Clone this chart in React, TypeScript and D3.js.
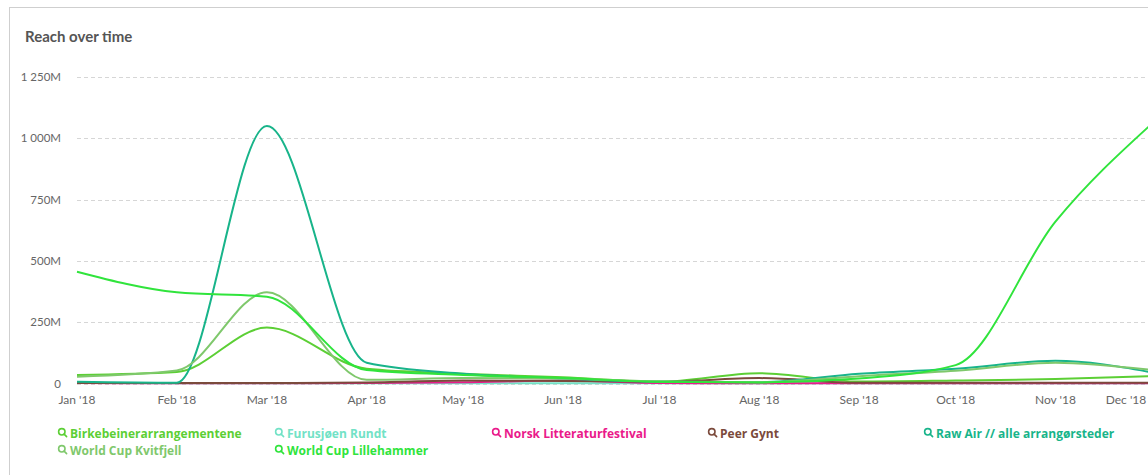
import React from "react";
import * as d3 from "d3";

const months = ["2018-01-01","2018-02-01","2018-03-01","2018-04-01","2018-05-01","2018-06-01","2018-07-01","2018-08-01","2018-09-01","2018-10-01","2018-11-01","2018-12-01"];
const monthLabels = ["Jan '18","Feb '18","Mar '18","Apr '18","May '18","Jun '18","Jul '18","Aug '18","Sep '18","Oct '18","Nov '18","Dec '18"];
const yTicks = [0, 250, 500, 750, 1000, 1250];
const yTickLabels = ["0", "250M", "500M", "750M", "1 000M", "1 250M"];

const birkebeiner = [35, 47, 228, 60, 40, 25, 7, 42, 8, 12, 18, 30];
const furusjoen = [3, 1, 1, 1, 1, 1, 1, 1, 1, 1, 1, 1];
const norskLitt = [2, 1, 1, 2, 5, 12, 2, 1, 1, 1, 1, 1];
const peerGynt = [2, 2, 2, 4, 12, 10, 7, 22, 3, 3, 3, 3];
const rawAir = [7, 3, 1050, 85, 40, 20, 7, 5, 40, 60, 93, 45];
const kvitfjell = [28, 53, 372, 15, 22, 20, 8, 5, 30, 52, 85, 55];
const lillehammer = [456, 372, 354, 55, 35, 22, 7, 4, 20, 75, 660, 1060];

const seriesNames = ["Birkebeinerarrangementene","Furusjøen Rundt","Norsk Litteraturfestival","Peer Gynt","Raw Air // alle arrangørsteder","World Cup Kvitfjell","World Cup Lillehammer"];
const seriesColors = ["#5ccf35","#72e2c6","#ea1a8a","#7b4a3c","#18b48a","#7fc86c","#30e43c"];
const seriesValues = [birkebeiner, furusjoen, norskLitt, peerGynt, rawAir, kvitfjell, lillehammer];

const FONT = "Lato, 'Open Sans', sans-serif";
const LEGEND_FONT = "'Open Sans', Lato, sans-serif";

function SearchIcon({ x, y, color }: { x: number; y: number; color: string }) {
  return (
    <g transform={`translate(${x},${y})`} stroke={color} fill="none" strokeWidth={1.6}>
      <circle cx={3.8} cy={-1.2} r={3.2} />
      <line x1={6.1} y1={1.1} x2={8.6} y2={3.6} strokeLinecap="round" />
    </g>
  );
}

export default function App() {
  const W = 1148, H = 475;
  const parse = d3.timeParse("%Y-%m-%d");
  const dates = months.map((m) => parse(m) as Date);
  const x = d3.scaleTime().domain([dates[0], dates[dates.length - 1]]).range([77, 1152]);
  const y = d3.scaleLinear().domain([0, 1250]).range([383.5, 77]);
  const line = d3.line<number>()
    .x((_, i) => x(dates[i]))
    .y((v) => y(v))
    .curve(d3.curveMonotoneX);

  const legendCols = [58, 275, 492, 708, 924];
  const legendRows = [433, 450];

  return (
    <div style={{ position: "absolute", left: 0, top: 0, width: W, height: H, overflow: "hidden" }}>
      <svg width={W} height={H} style={{ display: "block", fontFamily: FONT }}>
        <rect x={0} y={0} width={W} height={H} fill="#fff" />
        <rect x={9.5} y={7.5} width={W + 20} height={H + 20} fill="#fff" stroke="#cfcfcf" strokeWidth={1} />
        <text x={25} y={42} fontSize={15} fontWeight={700} fill="#555">Reach over time</text>

        {yTicks.map((t, i) => (
          <g key={t}>
            <line x1={77} x2={W} y1={Math.round(y(t)) + 0.5} y2={Math.round(y(t)) + 0.5} stroke="#d6d6d6" strokeDasharray="4,3" />
            <text x={61} y={y(t) + 4} fontSize={11.5} fill="#666" textAnchor="end">{yTickLabels[i]}</text>
          </g>
        ))}

        {dates.map((d, i) => {
          let cx = x(d);
          const label = monthLabels[i];
          const half = 21;
          if (cx + half > W - 1) cx = W - 1 - half;
          return (
            <text key={label} x={cx} y={404} fontSize={12} fill="#666" textAnchor="middle">{label}</text>
          );
        })}

        {seriesValues.map((vals, i) => (
          <path key={seriesNames[i]} d={line(vals) || ""} fill="none" stroke={seriesColors[i]} strokeWidth={2} strokeLinejoin="round" />
        ))}

        {seriesNames.map((name, i) => {
          const col = i < 5 ? i : i - 5;
          const row = i < 5 ? 0 : 1;
          const lx = legendCols[col];
          const ly = legendRows[row];
          return (
            <g key={name}>
              <SearchIcon x={lx} y={ly} color={seriesColors[i]} />
              <text x={lx + 12} y={ly + 4.5} fontSize={12} fontWeight={700} fill={seriesColors[i]} fontFamily={LEGEND_FONT}>{name}</text>
            </g>
          );
        })}
      </svg>
    </div>
  );
}
